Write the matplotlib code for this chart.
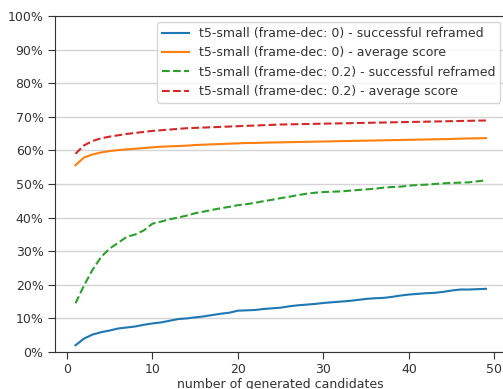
import numpy as np
import matplotlib
matplotlib.use("Agg")
import matplotlib.pyplot as plt
from matplotlib.ticker import PercentFormatter

n_candidates = list(range(1, 50))

succ_fd0 = [2.0, 4.0, 5.2, 5.9, 6.4, 7.0, 7.3, 7.6, 8.1, 8.5, 8.8, 9.3, 9.8, 10.0, 10.3,
            10.6, 11.0, 11.4, 11.7, 12.3, 12.4, 12.5, 12.8, 13.0, 13.2, 13.6, 13.9, 14.1,
            14.3, 14.6, 14.8, 15.0, 15.2, 15.5, 15.8, 16.0, 16.1, 16.4, 16.8, 17.1, 17.3,
            17.5, 17.6, 17.9, 18.3, 18.6, 18.6, 18.7, 18.8]

avg_fd0 = [55.6, 57.9, 58.8, 59.4, 59.8, 60.1, 60.3, 60.5, 60.7, 60.9, 61.1, 61.2, 61.3,
           61.4, 61.6, 61.7, 61.8, 61.9, 62.0, 62.1, 62.2, 62.2, 62.3, 62.35, 62.4, 62.45,
           62.5, 62.55, 62.6, 62.65, 62.7, 62.75, 62.8, 62.85, 62.9, 62.95, 63.0, 63.05,
           63.1, 63.15, 63.2, 63.25, 63.3, 63.35, 63.4, 63.5, 63.55, 63.6, 63.65]

succ_fd02 = [14.5, 19.8, 24.5, 28.3, 30.8, 32.5, 34.3, 35.0, 36.2, 38.2, 38.8, 39.5, 40.0,
             40.6, 41.3, 41.8, 42.3, 42.8, 43.2, 43.7, 44.0, 44.4, 44.9, 45.3, 45.8, 46.2,
             46.7, 47.1, 47.4, 47.6, 47.7, 47.8, 48.0, 48.2, 48.4, 48.6, 48.9, 49.1, 49.2,
             49.5, 49.7, 49.8, 50.0, 50.2, 50.3, 50.4, 50.5, 50.8, 51.1]

avg_fd02 = [59.0, 61.5, 62.8, 63.6, 64.1, 64.5, 64.9, 65.2, 65.5, 65.8, 66.0, 66.2, 66.4,
            66.6, 66.7, 66.8, 66.9, 67.0, 67.1, 67.2, 67.3, 67.4, 67.5, 67.6, 67.7, 67.75,
            67.8, 67.85, 67.9, 67.95, 68.0, 68.05, 68.1, 68.15, 68.2, 68.25, 68.3, 68.35,
            68.4, 68.45, 68.5, 68.55, 68.6, 68.65, 68.7, 68.75, 68.8, 68.85, 68.9]

labels = ["t5-small (frame-dec: 0) - successful reframed",
          "t5-small (frame-dec: 0) - average score",
          "t5-small (frame-dec: 0.2) - successful reframed",
          "t5-small (frame-dec: 0.2) - average score"]

text_color = "#333333"
fs = 9.0
plt.rcParams['font.family'] = ['DejaVu Sans']
plt.rcParams['font.size'] = fs

fig = plt.figure(figsize=(5.03, 3.89), dpi=100)
ax = fig.add_axes([0.1093, 0.0951, 0.8976, 0.8638])

ax.plot(n_candidates, succ_fd0, color="#1f77b4", lw=1.5, label=labels[0])
ax.plot(n_candidates, avg_fd0, color="#ff7f0e", lw=1.5, label=labels[1])
ax.plot(n_candidates, succ_fd02, color="#2ca02c", lw=1.5, ls="--", label=labels[2])
ax.plot(n_candidates, avg_fd02, color="#d62728", lw=1.5, ls="--", label=labels[3])

ax.set_ylim(0, 100)
ax.set_xlim(-1.4, 51.4)
ax.set_yticks(np.arange(0, 101, 10))
ax.set_xticks([0, 10, 20, 30, 40, 50])
ax.yaxis.set_major_formatter(PercentFormatter(decimals=0))
ax.grid(axis="y", color="#d4d4d4", lw=1)
ax.set_axisbelow(True)
for s in ax.spines.values():
    s.set_color("#333333")
ax.tick_params(colors=text_color, labelcolor=text_color, labelsize=fs, length=4.7)
ax.set_xlabel("number of generated candidates", color=text_color, fontsize=fs, labelpad=1)

leg = ax.legend(loc="upper right", fontsize=fs, handlelength=2.1)
for t in leg.get_texts():
    t.set_color(text_color)

fig.savefig("out.png", dpi=100)
